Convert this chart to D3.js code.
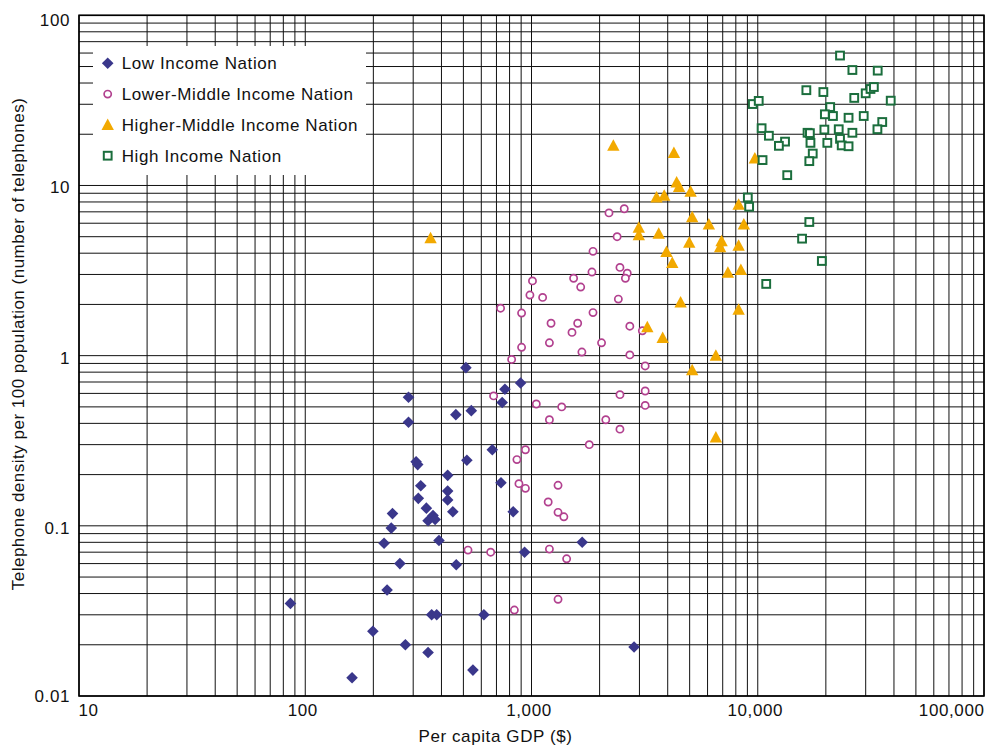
<!DOCTYPE html>
<html>
<head>
<meta charset="utf-8">
<script src="https://cdn.jsdelivr.net/npm/d3@7"></script>
<style>
  body { margin: 0; background: #fff; }
  text { font-family: "Liberation Sans", Arial, Helvetica, sans-serif; }
</style>
</head>
<body>
<div id="chart"></div>
<script>
// values (GDP in $, telephones per 100 people)
const lowGdp = [86, 161, 199, 223, 230, 240, 243, 262, 277, 309, 314, 324, 316, 343, 367, 349, 375, 362, 381, 349,
    390, 426, 426, 426, 449, 465, 518, 551, 616, 671, 733, 513, 895, 763, 286, 742, 542, 463, 286, 830, 1675, 932, 2840]
const lowTel = [0.035, 0.0128, 0.024, 0.079, 0.042, 0.097, 0.118, 0.060, 0.020, 0.238, 0.229, 0.172, 0.145, 0.127, 0.115, 0.107, 0.109, 0.030, 0.030, 0.018,
    0.082, 0.198, 0.160, 0.142, 0.121, 0.059, 0.243, 0.0142, 0.030, 0.280, 0.179, 0.85, 0.69, 0.635, 0.57, 0.53, 0.475, 0.45, 0.406, 0.121, 0.080, 0.070, 0.0194]

const lowerMidGdp = [2200, 2570, 2390, 1870, 2460, 2650, 2600, 1850, 1535, 1650, 1010, 984, 1120, 2420, 730, 904, 1870, 1220, 1600, 1510,
    2720, 3090, 1200, 2040, 1670, 2720, 904, 817, 3180, 680, 1050, 1360, 1200, 2130, 2460, 3180, 3180, 2460, 1800, 940,
    862, 880, 940, 1310, 1185, 1310, 1390, 524, 660, 1200, 1430, 1310, 840]
const lowerMidTel = [6.9, 7.3, 5.0, 4.1, 3.3, 3.05, 2.85, 3.1, 2.85, 2.53, 2.75, 2.27, 2.2, 2.15, 1.9, 1.78, 1.79, 1.55, 1.55, 1.37,
    1.49, 1.4, 1.19, 1.19, 1.05, 1.01, 1.12, 0.95, 0.87, 0.58, 0.52, 0.50, 0.42, 0.42, 0.59, 0.62, 0.51, 0.37, 0.30, 0.28,
    0.245, 0.177, 0.166, 0.173, 0.138, 0.12, 0.113, 0.072, 0.070, 0.073, 0.064, 0.037, 0.032]

const higherMidGdp = [2300, 4260, 4380, 4490, 5050, 3570, 3860, 8230, 5130, 6080, 8680, 2980, 2980, 3650, 4980, 6920, 6820, 8230, 3950, 4190,
    7380, 8420, 4560, 8230, 3250, 3800, 6530, 5130, 6530, 9710, 358]
const higherMidTel = [17.1, 15.5, 10.4, 9.8, 9.2, 8.5, 8.7, 7.7, 6.5, 5.9, 5.9, 5.65, 5.1, 5.2, 4.6, 4.7, 4.33, 4.43, 4.07, 3.5,
    3.07, 3.19, 2.05, 1.86, 1.47, 1.27, 1.0, 0.82, 0.33, 14.4, 4.9]

const highGdp = [23100, 26200, 33900, 16400, 19500, 26700, 30000, 31500, 32600, 38700, 9510, 10100, 20900, 19800, 21500, 25200, 29400, 35500, 33800, 10400,
    11200, 16600, 17000, 19700, 22800, 26200, 23100, 13200, 12400, 17100, 20300, 23500, 25200, 17500, 16900, 10500, 13500, 9040, 9160, 16900,
    15700, 19200, 10900]
const highTel = [58, 47.7, 47.3, 36.3, 35.4, 32.7, 34.8, 36.9, 37.9, 31.5, 30.1, 31.4, 28.9, 26.2, 25.6, 25.0, 25.6, 23.6, 21.4, 21.7,
    19.6, 20.4, 20.3, 21.3, 21.4, 20.4, 18.8, 18.1, 17.1, 17.8, 17.8, 17.2, 17.0, 15.4, 13.9, 14.1, 11.5, 8.5, 7.5, 6.1,
    4.87, 3.6, 2.64]

const seriesNames = ["Low Income Nation", "Lower-Middle Income Nation", "Higher-Middle Income Nation", "High Income Nation"]
const xTickValues = [10, 100, 1000, 10000, 100000]
const yTickValues = [0.01, 0.1, 1, 10, 100]

const width = 986
const height = 745
const margin = { left: 79, right: 2, top: 15.3, bottom: 49 }

const svg = d3.select("#chart")
    .append("svg")
    .attr("width", width)
    .attr("height", height)

const x = d3.scaleLog().domain([10, 100000]).range([margin.left, width - margin.right])
const y = d3.scaleLog().domain([0.01, 100]).range([height - margin.bottom, margin.top])

// full log grid, every 1..9 of each decade
const grid = svg.append("g").attr("stroke", "#111").attr("stroke-width", 1)
grid.selectAll(".gx")
    .data(x.ticks())
    .join("line")
    .attr("x1", d => x(d)).attr("x2", d => x(d))
    .attr("y1", y.range()[0]).attr("y2", y.range()[1])
grid.selectAll(".gy")
    .data(y.ticks())
    .join("line")
    .attr("y1", d => y(d)).attr("y2", d => y(d))
    .attr("x1", x.range()[0]).attr("x2", x.range()[1])

// plot frame
svg.append("rect")
    .attr("x", x.range()[0]).attr("y", y.range()[1])
    .attr("width", x.range()[1] - x.range()[0])
    .attr("height", y.range()[0] - y.range()[1])
    .attr("fill", "none")
    .attr("stroke", "#000")
    .attr("stroke-width", 1.6)

// axes (labels only)
const xAxis = svg.append("g")
    .attr("transform", `translate(0,${y.range()[0]})`)
    .call(d3.axisBottom(x).tickValues(xTickValues).tickFormat(d3.format(",")).tickSize(0).tickPadding(8))
xAxis.select(".domain").remove()
xAxis.selectAll("text")
    .attr("font-size", 17).attr("fill", "#111")
    .style("letter-spacing", "0.6px")
    .attr("text-anchor", (d, i) => i == 0 ? "start" : (i == xTickValues.length - 1 ? "end" : "middle"))
    .attr("dx", (d, i) => i == 0 ? -1 : (i == xTickValues.length - 1 ? 0 : -3))

const yAxis = svg.append("g")
    .attr("transform", `translate(${x.range()[0]},0)`)
    .call(d3.axisLeft(y).tickValues(yTickValues).tickFormat(d => String(d)).tickSize(0).tickPadding(9))
yAxis.select(".domain").remove()
yAxis.selectAll("text")
    .attr("font-size", 17).attr("fill", "#111")
    .style("letter-spacing", "0.6px")
    .attr("dy", (d, i) => i == 0 ? 5 : (i == yTickValues.length - 1 ? 10.5 : 7.5))

// axis titles
svg.append("text")
    .attr("x", (x.range()[0] + x.range()[1]) / 2 - 36)
    .attr("y", 742)
    .attr("text-anchor", "middle")
    .attr("font-size", 17).attr("fill", "#111")
    .style("letter-spacing", "0.6px")
    .text("Per capita GDP ($)")

svg.append("text")
    .attr("transform", "translate(24,344) rotate(-90)")
    .attr("text-anchor", "middle")
    .attr("font-size", 17).attr("fill", "#111")
    .style("letter-spacing", "0.5px")
    .text("Telephone density per 100 population (number of telephones)")

// marker shapes
const colors = ["#3a378b", "#b2418f", "#f2a900", "#1b6e3d"]
function drawMarker(sel, type) {
    if (type == 0) {
        sel.append("path").attr("d", "M0,-5.8L5.8,0L0,5.8L-5.8,0Z").attr("fill", colors[0])
    } else if (type == 1) {
        sel.append("circle").attr("r", 3.6).attr("fill", "#fff").attr("stroke", colors[1]).attr("stroke-width", 1.7)
    } else if (type == 2) {
        sel.append("path").attr("d", "M0,-6.5L6.2,5L-6.2,5Z").attr("fill", colors[2])
    } else {
        sel.append("rect").attr("x", -3.9).attr("y", -3.9).attr("width", 7.8).attr("height", 7.8)
            .attr("fill", "#fff").attr("stroke", colors[3]).attr("stroke-width", 2)
    }
}

const series = [
    [lowGdp, lowTel],
    [lowerMidGdp, lowerMidTel],
    [higherMidGdp, higherMidTel],
    [highGdp, highTel]
]

series.forEach((s, k) => {
    const pts = s[0].map((g, i) => ({ gdp: g, tel: s[1][i] }))
    svg.append("g")
        .selectAll("g")
        .data(pts)
        .join("g")
        .attr("transform", d => `translate(${x(d.gdp)},${y(d.tel)})`)
        .each(function () { drawMarker(d3.select(this), k) })
})

// legend, white box over the grid
const legend = svg.append("g")
legend.append("rect")
    .attr("x", 93).attr("y", 46).attr("width", 273).attr("height", 129)
    .attr("fill", "#fff")
seriesNames.forEach((name, i) => {
    const row = legend.append("g").attr("transform", `translate(107.7,${63.3 + i * 30.8})`)
    drawMarker(row, i)
    row.append("text")
        .attr("x", 14).attr("y", 6)
        .attr("font-size", 17).attr("fill", "#111")
        .style("letter-spacing", "0.6px")
        .text(name)
})
</script>
</body>
</html>
